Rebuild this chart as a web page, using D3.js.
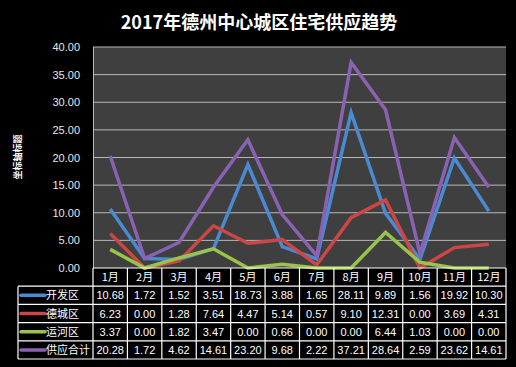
<!DOCTYPE html>
<html>
<head>
<meta charset="utf-8">
<script src="https://cdn.jsdelivr.net/npm/d3@7"></script>
<style>
body { margin: 0; background: #000; }
svg { display: block; font-family: "Noto Sans CJK SC", "Liberation Sans", sans-serif; }
</style>
</head>
<body>
<div id="chart"></div>
<script>
const W = 516, H = 367;

const months = ["1月","2月","3月","4月","5月","6月","7月","8月","9月","10月","11月","12月"];
const seriesNames = ["开发区", "德城区", "运河区", "供应合计"];
const kaifa = [10.68, 1.72, 1.52, 3.51, 18.73, 3.88, 1.65, 28.11, 9.89, 1.56, 19.92, 10.30];
const decheng = [6.23, 0.00, 1.28, 7.64, 4.47, 5.14, 0.57, 9.10, 12.31, 0.00, 3.69, 4.31];
const yunhe = [3.37, 0.00, 1.82, 3.47, 0.00, 0.66, 0.00, 0.00, 6.44, 1.03, 0.00, 0.00];
const total = [20.28, 1.72, 4.62, 14.61, 23.20, 9.68, 2.22, 37.21, 28.64, 2.59, 23.62, 14.61];
const yTicks = [0, 5, 10, 15, 20, 25, 30, 35, 40];
const colors = ["#4a8ad0", "#cc4646", "#9bc24a", "#8a62b2"];

const series = seriesNames.map((name, i) => ({
    name: name,
    values: [kaifa, decheng, yunhe, total][i],
    color: colors[i]
}));

const plot = { left: 93, right: 506, top: 47, bottom: 268 };
const rowH = 18.2;

const svg = d3.select("#chart").append("svg")
    .attr("width", W).attr("height", H);

svg.append("rect").attr("width", W).attr("height", H).attr("fill", "#000");

// titulo
svg.append("text")
    .attr("x", 259).attr("y", 29)
    .attr("text-anchor", "middle")
    .attr("fill", "#fff")
    .attr("font-size", 18).attr("font-weight", "bold")
    .text("2017年德州中心城区住宅供应趋势");

svg.append("text")
    .attr("transform", "translate(21,157) rotate(-90)")
    .attr("text-anchor", "middle")
    .attr("fill", "#fff")
    .attr("font-size", 9).attr("font-weight", "bold")
    .text("坐标轴标题");

const x = d3.scaleBand().domain(months).range([plot.left, plot.right]);
const y = d3.scaleLinear().domain([0, 40]).range([plot.bottom, plot.top]);

svg.append("rect")
    .attr("x", plot.left).attr("y", plot.top)
    .attr("width", plot.right - plot.left).attr("height", plot.bottom - plot.top)
    .attr("fill", "#3f3f3f");

// grid
svg.append("g")
    .selectAll("line")
    .data(yTicks.slice(1))
    .enter().append("line")
    .attr("x1", plot.left).attr("x2", plot.right)
    .attr("y1", d => y(d)).attr("y2", d => y(d))
    .attr("stroke", "#b8b8b8").attr("stroke-width", 1);

svg.append("line")
    .attr("x1", plot.left + 0.5).attr("x2", plot.left + 0.5)
    .attr("y1", plot.top).attr("y2", plot.bottom)
    .attr("stroke", "#b8b8b8");

const yAxis = svg.append("g")
    .attr("transform", `translate(${plot.left - 10},0)`)
    .call(d3.axisLeft(y).tickValues(yTicks).tickFormat(d3.format(".2f")).tickSize(0));
yAxis.select(".domain").remove();
yAxis.selectAll("text")
    .attr("fill", "#e8e8e8")
    .attr("font-size", 11)
    .attr("font-family", "Liberation Sans, sans-serif");

// lineas
const line = d3.line()
    .x((d, i) => x(months[i]) + x.bandwidth() / 2)
    .y(d => y(d));

svg.append("g")
    .selectAll("path")
    .data(series)
    .enter().append("path")
    .attr("d", d => line(d.values))
    .attr("fill", "none")
    .attr("stroke", d => d.color)
    .attr("stroke-width", 3.5)
    .attr("stroke-linejoin", "miter");

// tabla de datos
const table = svg.append("g").attr("font-size", 11).attr("fill", "#fff");
const tableLeft = 18;
const tTop = plot.bottom;

// encabezado
table.selectAll(".hdr")
    .data(months)
    .enter().append("text")
    .attr("class", "hdr")
    .attr("x", d => x(d) + x.bandwidth() / 2)
    .attr("y", tTop + rowH / 2 + 4)
    .attr("text-anchor", "middle")
    .attr("fill", "#fff")
    .text(d => d);

series.forEach((s, r) => {
    const cy = tTop + rowH * (r + 1) + rowH / 2;
    table.append("line")
        .attr("x1", tableLeft + 3).attr("x2", tableLeft + 27)
        .attr("y1", cy).attr("y2", cy)
        .attr("stroke", s.color).attr("stroke-width", 3.5)
        .attr("stroke-linecap", "round");
    table.append("text")
        .attr("x", tableLeft + 28).attr("y", cy + 4)
        .attr("fill", "#fff")
        .text(s.name);
    table.selectAll(null)
        .data(s.values)
        .enter().append("text")
        .attr("x", (d, i) => x(months[i]) + x.bandwidth() / 2)
        .attr("y", cy + 4)
        .attr("text-anchor", "middle")
        .attr("fill", "#fff")
        .attr("font-family", "Liberation Sans, sans-serif")
        .text(d => d.toFixed(2));
});

// bordes
const grid = svg.append("g").attr("stroke", "#fff").attr("stroke-width", 1.2).attr("fill", "none");
const tBottom = tTop + rowH * 5;
grid.append("line").attr("x1", plot.left).attr("x2", plot.right).attr("y1", tTop).attr("y2", tTop);
d3.range(1, 6).forEach(r => {
    grid.append("line")
        .attr("x1", tableLeft).attr("x2", plot.right)
        .attr("y1", tTop + rowH * r).attr("y2", tTop + rowH * r);
});
grid.append("line").attr("x1", tableLeft).attr("x2", tableLeft).attr("y1", tTop + rowH).attr("y2", tBottom);
months.forEach(m => {
    grid.append("line").attr("x1", x(m)).attr("x2", x(m)).attr("y1", tTop).attr("y2", tBottom);
});
grid.append("line").attr("x1", plot.right).attr("x2", plot.right).attr("y1", tTop).attr("y2", tBottom);
</script>
</body>
</html>
